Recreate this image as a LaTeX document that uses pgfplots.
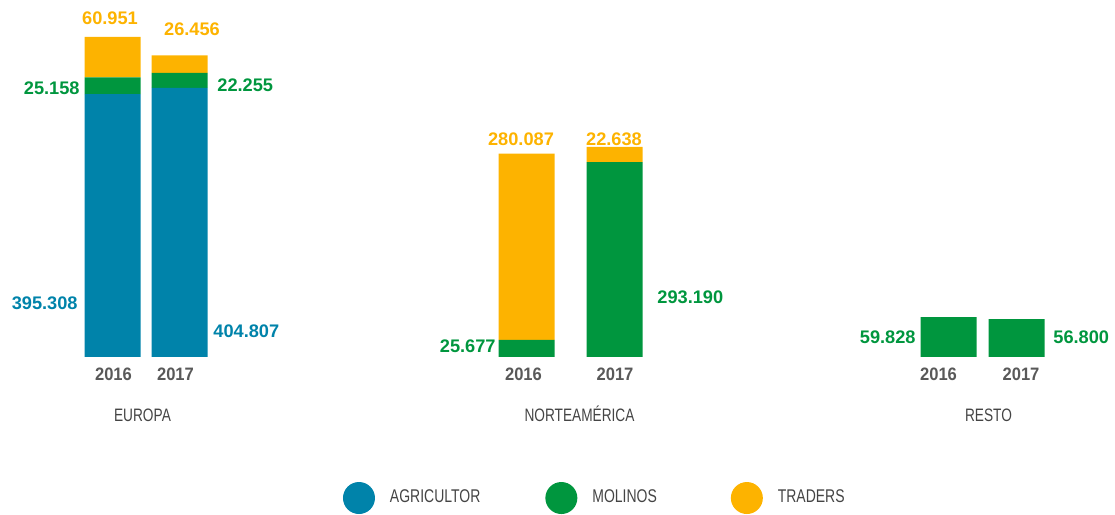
\documentclass[border=0pt]{standalone}
\usepackage{pgfplots}
\pgfplotsset{compat=1.18}
\usepackage{fontspec}
\setmainfont{Liberation Sans}
\newfontfamily\condfont[FakeStretch=0.76]{Liberation Sans}
\newfontfamily\yearfont[FakeStretch=0.92]{Liberation Sans}

\definecolor{agri}{HTML}{0083AA}
\definecolor{moli}{HTML}{00963E}
\definecolor{trad}{HTML}{FDB300}
\definecolor{yeargray}{HTML}{595959}
\definecolor{catgray}{HTML}{444444}

\pgfplotsset{
  circ legend/.style={legend image code/.code={\fill[##1] (8pt,0pt) circle (8pt);}},
}
\tikzset{
  val/.style={font=\fontsize{9.1pt}{10pt}\selectfont\bfseries, inner sep=0pt},
  yr/.style={font=\fontsize{9pt}{10pt}\yearfont\bfseries, text=yeargray, inner sep=0pt, anchor=base},
  cat/.style={font=\fontsize{9pt}{10pt}\condfont, text=catgray, inner sep=0pt, anchor=base},
}

\begin{document}
\begin{tikzpicture}
\begin{axis}[
  ybar stacked, bar width=56,
  scale only axis, width=557.5pt, height=257pt,
  xmin=0, xmax=1115, ymin=-236.1, ymax=536.8,
  axis lines=none, ticks=none, clip=false,
  legend columns=3,
  legend style={draw=none, fill=none, inner sep=0pt, outer sep=0pt,
    at={(0.3076,0.0311)}, anchor=west,
    nodes={inner sep=0pt},
    font=\fontsize{9.2pt}{10pt}\condfont, text=catgray,
    /tikz/every odd column/.append style={column sep=7.5pt},
    /tikz/every even column/.append style={column sep=32.5pt}},
]
\addplot[fill=agri, draw=none, circ legend] coordinates {(112.5,395.308) (179.5,404.807) (526.5,0) (614.5,0) (948.5,0) (1016.5,0)};
\addplot[fill=moli, draw=none, circ legend] coordinates {(112.5,25.158) (179.5,22.255) (526.5,25.677) (614.5,293.190) (948.5,59.828) (1016.5,56.800)};
\addplot[fill=trad, draw=none, circ legend] coordinates {(112.5,60.951) (179.5,26.456) (526.5,280.087) (614.5,22.638) (948.5,0) (1016.5,0)};
\legend{AGRICULTOR, MOLINOS\rule{4.5pt}{0pt}, TRADERS}

\path (rel axis cs:0,0) rectangle (rel axis cs:1,1);

% value labels
\node[val, text=trad, anchor=base] at (axis cs:110,499.2) {60.951};
\node[val, text=trad, anchor=base] at (axis cs:192,482.7) {26.456};
\node[val, text=moli, anchor=base east] at (axis cs:80,394) {25.158};
\node[val, text=moli, anchor=base west] at (axis cs:217,398.5) {22.255};
\node[val, text=agri, anchor=base east] at (axis cs:78,70.7) {395.308};
\node[val, text=agri, anchor=base west] at (axis cs:213,28.6) {404.807};

\node[val, text=trad, anchor=base] at (axis cs:521,317.3) {280.087};
\node[val, text=trad, anchor=base] at (axis cs:614,317.3) {22.638};
\node[val, text=moli, anchor=base east] at (axis cs:496,6) {25.677};
\node[val, text=moli, anchor=base west] at (axis cs:657,79.7) {293.190};

\node[val, text=moli, anchor=base east] at (axis cs:916,21) {59.828};
\node[val, text=moli, anchor=base west] at (axis cs:1053,21) {56.800};

% years
\node[yr] at (axis cs:113.5,-36.1) {2016};
\node[yr] at (axis cs:175.5,-36.1) {2017};
\node[yr] at (axis cs:523.5,-36.1) {2016};
\node[yr] at (axis cs:615,-36.1) {2017};
\node[yr] at (axis cs:938.5,-36.1) {2016};
\node[yr] at (axis cs:1021,-36.1) {2017};

% regions
\node[cat] at (axis cs:142.5,-97.7) {EUROPA};
\node[cat] at (axis cs:579.5,-97.7) {NORTEAMÉRICA};
\node[cat] at (axis cs:988.5,-97.7) {RESTO};
\end{axis}
\end{tikzpicture}
\end{document}
